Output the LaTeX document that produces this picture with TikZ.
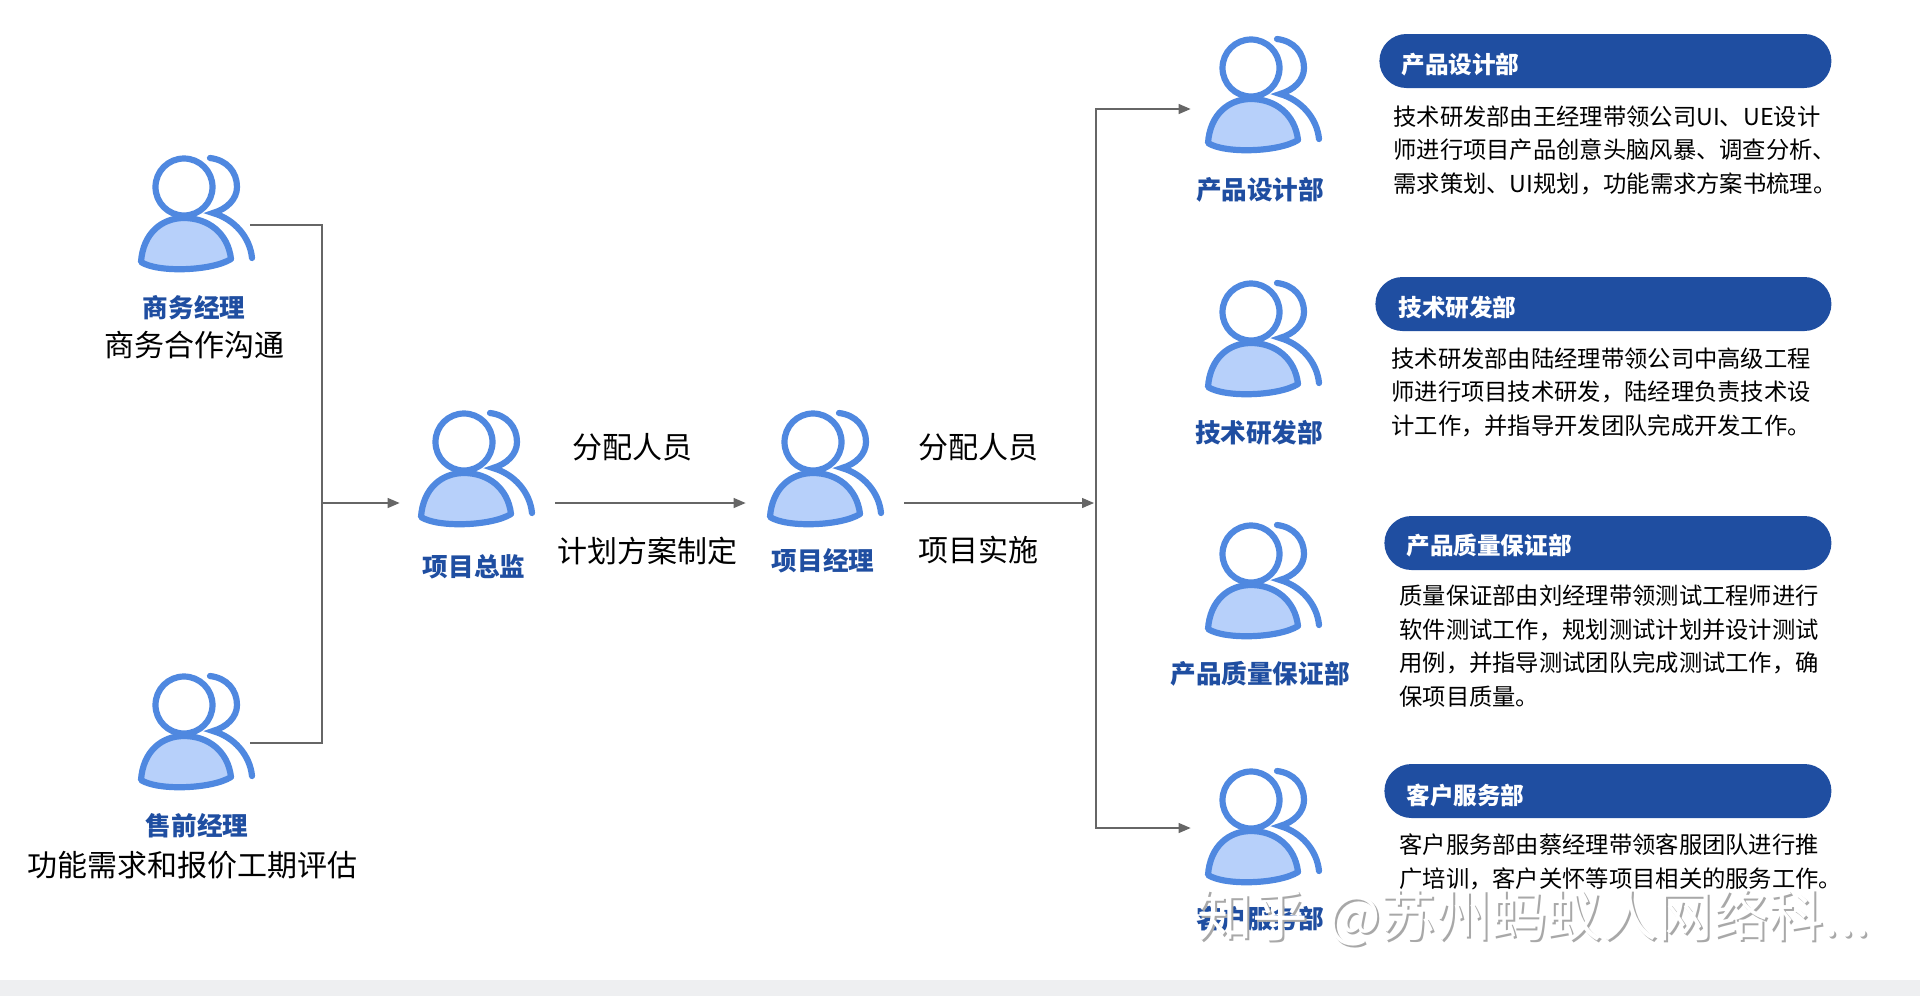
\documentclass[tikz,border=0pt]{standalone}
\usepackage{fontspec}
\setmainfont{Noto Sans CJK SC}
\usetikzlibrary{arrows.meta}
\definecolor{iconline}{HTML}{4F88E0}
\definecolor{iconfill}{HTML}{B7D0FA}
\definecolor{deepblue}{HTML}{1F4EA1}
\definecolor{linegrey}{HTML}{666666}
\definecolor{bandgrey}{HTML}{EEEFF1}
\definecolor{wmshadow}{HTML}{A8A8A8}
\tikzset{
  x=0.5pt,y=-0.5pt,
  person/.pic={
    \draw[line width=3.1pt,iconline,fill=iconfill,line join=round]
      (-43,75) .. controls (-41,46) and (-22,31) .. (0,31)
      .. controls (24,31) and (44,46) .. (47,72)
      .. controls (28,84) and (-26,86) .. (-43,75) -- cycle;
    \draw[line width=3.1pt,iconline,fill=white] (0,0) circle (28.5);
    \draw[line width=3.1pt,iconline,line cap=round,line join=miter]
      (26,-29) .. controls (43,-27) and (53,-15) .. (53,0)
      .. controls (53,12) and (43,22) .. (29,26)
      .. controls (50,32) and (66,50) .. (68,71);
  },
  iconbox/.style={minimum width=56pt,minimum height=40pt,inner sep=0pt},
  rolelabel/.style={font=\fontsize{12.8pt}{15pt}\selectfont\bfseries,text=deepblue,inner sep=0pt},
  textlabel/.style={font=\fontsize{15pt}{18pt}\selectfont,text=black,inner sep=0pt},
  pill/.style={anchor=west,fill=deepblue,rounded corners=13.5pt,minimum height=27pt,inner ysep=0pt,
    inner xsep=11pt,text width=#1,align=left,text=white,font=\fontsize{11.8pt}{14pt}\selectfont\bfseries},
  pilltext/.style={anchor=west,inner sep=0pt,text=white,font=\fontsize{11.8pt}{14pt}\selectfont\bfseries},
  bodytext/.style={anchor=west,align=left,inner sep=0pt,text=black,font=\fontsize{11.65pt}{16.75pt}\selectfont},
  conn/.style={draw=linegrey,line width=0.65pt},
  arr/.style={conn,-{Triangle[length=6pt,width=5pt]}},
}
\begin{document}
\begin{tikzpicture}
\useasboundingbox (0,0) rectangle (1920,996);
\fill[white] (0,0) rectangle (1920,996);
\fill[bandgrey] (0,980) rectangle (1920,996);

% icons
\pic at (184,187) {person};
\pic at (184,705) {person};
\pic at (464,442) {person};
\pic at (813,442) {person};
\pic at (1251,68) {person};
\pic at (1251,312) {person};
\pic at (1251,554) {person};
\pic at (1251,800) {person};

% invisible boxes that the connectors attach to
\node[iconbox] (bm) at (194,225) {};
\node[iconbox] (sq) at (194,743) {};
\node[iconbox] (pd) at (474,503) {};
\node[iconbox] (pm) at (823,503) {};
\node[iconbox] (d1) at (1261,109) {};
\node[iconbox] (d2) at (1261,352) {};
\node[iconbox] (d3) at (1261,594) {};
\node[iconbox] (d4) at (1261,828) {};
\coordinate (j) at (322,503);
\coordinate (k) at (1096,503);

% connectors
\draw[conn] (bm.east) -| (j);
\draw[conn] (sq.east) -| (j);
\draw[arr,shorten >=9pt] (j) -- (pd.west);
\draw[arr,shorten <=12.5pt,shorten >=10.5pt] (pd.east) -- (pm.west);
\draw[arr,shorten <=12.5pt,shorten >=1pt] (pm.east) -- (k);
\draw[arr,shorten >=7pt] (k) |- (d1.west);
\draw[arr,shorten >=7pt] (k) |- (d4.west);

% labels on the left and middle
\node[rolelabel] (l1) at (194,308) {商务经理};
\node[textlabel] (t1) at (194,345) {商务合作沟通};
\node[rolelabel] (l2) at (197,826) {售前经理};
\node[textlabel] (t2) at (192,865) {功能需求和报价工期评估};
\node[rolelabel] (l3) at (474,567) {项目总监};
\node[rolelabel] (l4) at (823,561) {项目经理};
\node[textlabel] (t3) at (632,447) {分配人员};
\node[textlabel] (t4) at (647,551) {计划方案制定};
\node[textlabel] (t5) at (978,447) {分配人员};
\node[textlabel] (t6) at (978,550) {项目实施};

% department labels
\node[rolelabel] (n1) at (1260,190) {产品设计部};
\node[rolelabel] (n2) at (1259,433) {技术研发部};
\node[rolelabel] (n3) at (1260,674) {产品质量保证部};
\node[rolelabel] (n4) at (1260,919) {客户服务部};

% pills
\node[pill=204pt] (p1) at (1379,61) {};
\node[pill=206pt] (p2) at (1375,304) {};
\node[pill=201.5pt] (p3) at (1384,543) {};
\node[pill=201.5pt] (p4) at (1384,791) {};
\node[pilltext] (pt1) at (1401,65) {产品设计部};
\node[pilltext] (pt2) at (1398,308) {技术研发部};
\node[pilltext] (pt3) at (1406,546) {产品质量保证部};
\node[pilltext] (pt4) at (1406,795) {客户服务部};

% body text
\node[bodytext] (b1) at (1393,150) {技术研发部由王经理带领公司UI、UE设计\\师进行项目产品创意头脑风暴、调查分析、\\需求策划、UI规划，功能需求方案书梳理。};
\node[bodytext] (b2) at (1391,392) {技术研发部由陆经理带领公司中高级工程\\师进行项目技术研发，陆经理负责技术设\\计工作，并指导开发团队完成开发工作。};
\node[bodytext] (b3) at (1399,646) {质量保证部由刘经理带领测试工程师进行\\软件测试工作，规划测试计划并设计测试\\用例，并指导测试团队完成测试工作，确\\保项目质量。};
\node[bodytext] (b4) at (1399,862) {客户服务部由蔡经理带领客服团队进行推\\广培训，客户关怀等项目相关的服务工作。};

% watermark
\node[anchor=west,inner sep=0pt,text=wmshadow,font=\fontsize{27.7pt}{30pt}\selectfont] (w0) at (1199,920) {知乎\hspace{10pt}@苏州蚂蚁人网络科...};
\node[anchor=west,inner sep=0pt,text=white,font=\fontsize{27.7pt}{30pt}\selectfont] (w1) at (1197,918) {知乎\hspace{10pt}@苏州蚂蚁人网络科...};
\end{tikzpicture}
\end{document}
